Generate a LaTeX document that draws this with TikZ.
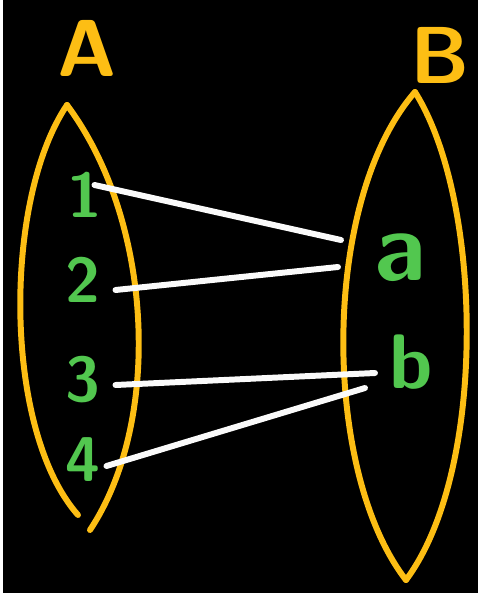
\documentclass[tikz,border=0pt]{standalone}
\usepackage{tikz}
\definecolor{SetBlack}{HTML}{000000}
\definecolor{SetYellow}{HTML}{FDBE14}
\definecolor{SetGreen}{HTML}{52C74F}
\definecolor{SetWhite}{HTML}{FAFAFA}

\begin{document}
\begin{tikzpicture}[x=0.02cm,y=-0.02cm,
    setline/.style={SetYellow,line width=3.4pt,line cap=round},
    setname/.style={text=SetYellow,font=\sffamily\bfseries\fontsize{46}{50}\selectfont},
    elem/.style={text=SetGreen,font=\sffamily\bfseries\fontsize{36}{40}\selectfont,inner sep=1pt},
    maps/.style={SetWhite,line width=3.4pt,line cap=round}]
      \fill[SetBlack] (0,0) rectangle (475,593);
      \draw[setline] (64,105) .. controls (0,200) and (0,430) .. (75,515);
      \draw[setline] (64,105) .. controls (150,220) and (160,420) .. (87,530);
      \draw[setline] (412,92) .. controls (318,200) and (318,470) .. (403,580);
      \draw[setline] (412,92) .. controls (480,200) and (485,470) .. (403,580);
      \node[setname] (nameA) at (84,48) {A};
      \node[setname] (nameB) at (437,55) {B};
      \node[elem] (n1) at (82,195) {1};
      \node[elem] (n2) at (80,280) {2};
      \node[elem] (n3) at (80,380) {3};
      \node[elem] (n4) at (80,460) {4};
      \node[elem,font=\sffamily\bfseries\fontsize{56}{60}\selectfont] (na) at (397,258) {a};
      \node[elem,font=\sffamily\bfseries\fontsize{44}{48}\selectfont] (nb) at (408,362) {b};
      \coordinate (a1) at (338,240);
      \coordinate (a2) at (335,267);
      \coordinate (b3) at (372,373);
      \coordinate (b4) at (362,388);
      \draw[maps] ([shift={(-10,-10)}]n1.east) -- (a1);
      \draw[maps] ([shift={(13,10)}]n2.east) -- (a2);
      \draw[maps] ([shift={(13,5)}]n3.east) -- (b3);
      \draw[maps] ([shift={(4,6)}]n4.east) -- (b4);
\end{tikzpicture}
\end{document}
